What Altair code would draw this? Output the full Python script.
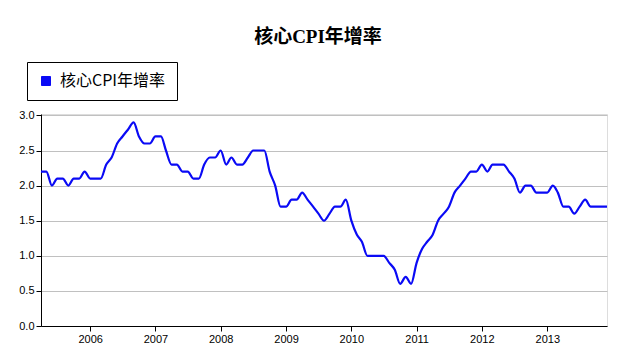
import altair as alt
import pandas as pd

series_name = "核心CPI年增率"
start_month = "2005-04-01"
end_month = "2013-12-01"

# monthly values, Apr 2005 .. Dec 2013
values = [
    2.2, 2.2, 2.0, 2.1, 2.1, 2.0, 2.1, 2.1, 2.2, 2.1, 2.1, 2.1,
    2.3, 2.4, 2.6, 2.7, 2.8, 2.9, 2.7, 2.6, 2.6, 2.7, 2.7, 2.5,
    2.3, 2.3, 2.2, 2.2, 2.1, 2.1, 2.3, 2.4, 2.4, 2.5, 2.3, 2.4,
    2.3, 2.3, 2.4, 2.5, 2.5, 2.5, 2.2, 2.0, 1.7, 1.7, 1.8, 1.8,
    1.9, 1.8, 1.7, 1.6, 1.5, 1.6, 1.7, 1.7, 1.8, 1.5, 1.3, 1.2,
    1.0, 1.0, 1.0, 1.0, 0.9, 0.8, 0.6, 0.7, 0.6, 0.9, 1.1, 1.2,
    1.3, 1.5, 1.6, 1.7, 1.9, 2.0, 2.1, 2.2, 2.2, 2.3, 2.2, 2.3,
    2.3, 2.3, 2.2, 2.1, 1.9, 2.0, 2.0, 1.9, 1.9, 1.9, 2.0, 1.9,
    1.7, 1.7, 1.6, 1.7, 1.8, 1.7, 1.7, 1.7, 1.7,
]
y_ticks = [0.0, 0.5, 1.0, 1.5, 2.0, 2.5, 3.0]

dates = pd.date_range(start_month, periods=len(values), freq="MS").strftime("%Y-%m-%d")
df = pd.DataFrame({"date": list(dates), "value": values, "series": series_name})

chart = (
    alt.Chart(df)
    .mark_line(interpolate="monotone", strokeWidth=2.2)
    .encode(
        x=alt.X(
            "date:T",
            scale=alt.Scale(domain=[start_month, end_month], nice=False),
            axis=alt.Axis(
                title=None,
                format="%Y",
                tickCount={"interval": "year", "step": 1},
                grid=False,
                labelAngle=0,
                domainColor="black",
                tickColor="black",
                tickSize=5,
                labelPadding=2,
                labelColor="black",
                labelFont="Liberation Sans",
                labelFontSize=11,
                labelFlush=False,
            ),
        ),
        y=alt.Y(
            "value:Q",
            scale=alt.Scale(domain=[0, 3.02], nice=False, zero=True),
            axis=alt.Axis(
                title=None,
                values=y_ticks,
                format=".1f",
                grid=True,
                gridColor="#c0c0c0",
                gridWidth=1,
                domainColor="black",
                tickColor="black",
                tickSize=5,
                labelPadding=2,
                labelColor="black",
                labelFont="Liberation Sans",
                labelFontSize=11,
            ),
        ),
        color=alt.Color(
            "series:N",
            scale=alt.Scale(range=["#0a0af5"]),
            legend=alt.Legend(
                title=None,
                orient="none",
                legendX=-14,
                legendY=-52,
                symbolType="square",
                symbolSize=81,
                symbolFillColor="#0a0af5",
                symbolStrokeColor="black",
                symbolStrokeWidth=1,
                labelFont="Noto Sans CJK TC",
                labelFontSize=16,
                labelColor="black",
                labelOffset=6,
                padding=11,
                strokeColor="black",
                fillColor="white",
                cornerRadius=0,
            ),
        ),
    )
    .properties(
        width=566,
        height=212,
        padding={"left": 41, "top": 114, "right": 16, "bottom": 25},
        autosize=alt.AutoSizeParams(type="none"),
        title=alt.TitleParams(
            series_name,
            font="Liberation Serif, Noto Sans CJK TC",
            fontSize=19,
            fontWeight="bold",
            color="black",
            anchor="middle",
            offset=15,
            dx=-6,
        ),
    )
    .configure_view(strokeWidth=0)
    .configure(background="white")
)

chart.save("out.html", embed_options={"renderer": "svg", "actions": False})
